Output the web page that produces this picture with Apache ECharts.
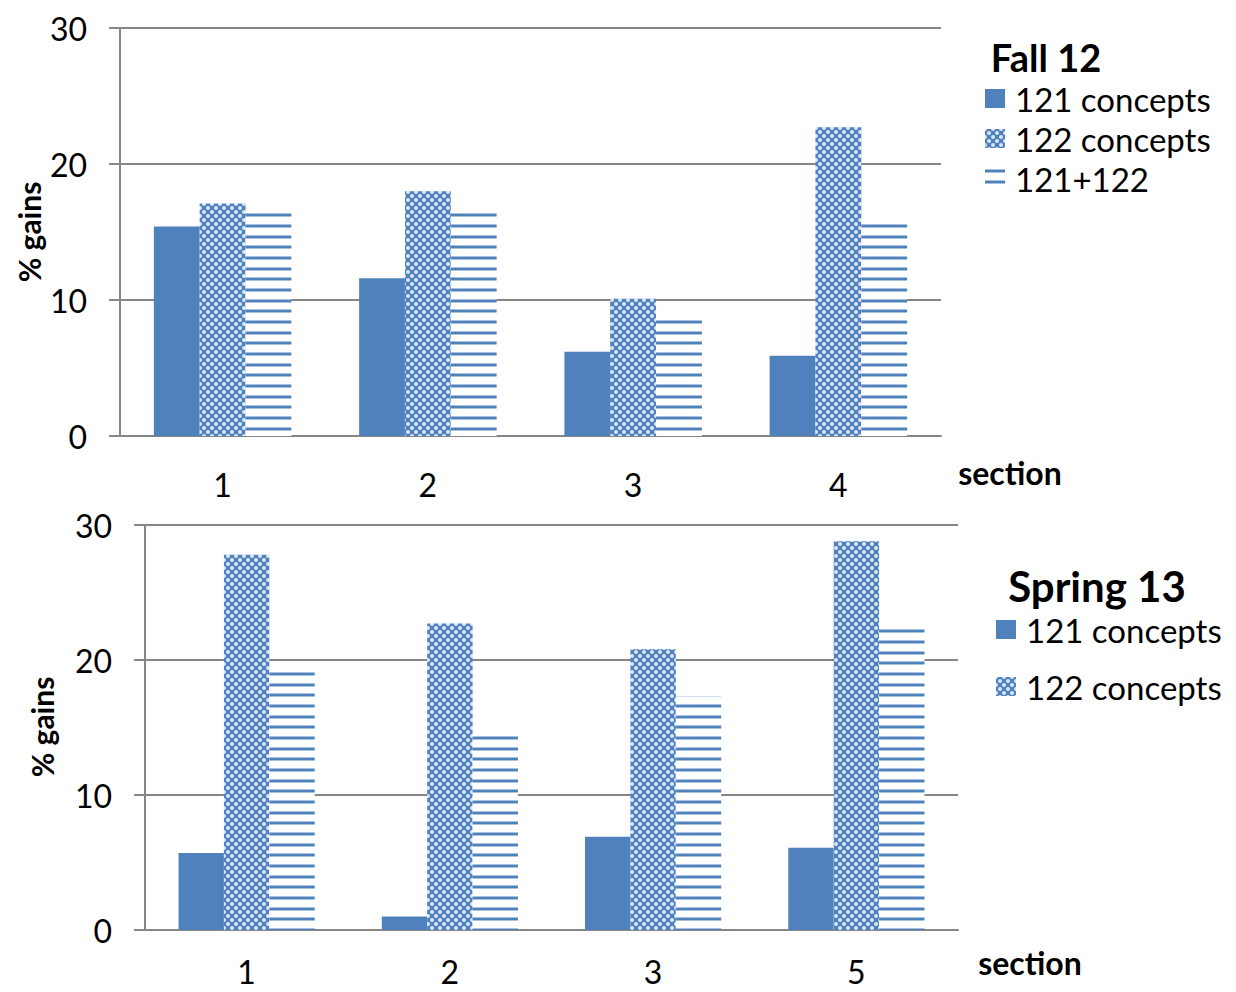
<!DOCTYPE html>
<html>
<head>
<meta charset="utf-8">
<title>% gains by section</title>
<script src="https://cdn.jsdelivr.net/npm/echarts@6/dist/echarts.min.js"></script>
<style>
  html, body { margin: 0; padding: 0; background: #ffffff; }
  #chart { width: 1236px; height: 992px; }
</style>
</head>
<body>
<div id="chart"></div>
<script>
// Fall 12 semester, per section
const fallSections = ['1', '2', '3', '4'];
const fall121 = [15.4, 11.6, 6.2, 5.9];
const fall122 = [17.1, 18.0, 10.1, 22.7];
const fallBoth = [16.6, 16.6, 8.9, 16.0];

// Spring 13 semester, per section
const springSections = ['1', '2', '3', '5'];
const spring121 = [5.7, 1.0, 6.9, 6.1];
const spring122 = [27.8, 22.7, 20.8, 28.8];
const springBoth = [19.3, 14.6, 17.3, 22.5];

const yTicks = [0, 10, 20, 30];
const seriesNames = ['121 concepts', '122 concepts', '121+122'];

const BLUE = '#4f81bd';
const GRID_GRAY = '#868686';
const FONT = 'Lato, "Open Sans", sans-serif';

// Lattice fill: blue ground with pale round holes on a diamond grid
function latticePattern() {
  const c = document.createElement('canvas');
  c.width = 8; c.height = 8;
  const g = c.getContext('2d');
  g.fillStyle = BLUE;
  g.fillRect(0, 0, 8, 8);
  g.fillStyle = '#dce6f2';
  const holes = [[0, 0], [8, 0], [0, 8], [8, 8], [4, 4]];
  holes.forEach(([x, y]) => {
    g.beginPath();
    g.arc(x, y, 2.0, 0, Math.PI * 2);
    g.fill();
  });
  return { image: c, repeat: 'repeat', imageWidth: 8, imageHeight: 8 };
}

// Horizontal stripe fill: thin blue rules on white, about 10.7px apart
function stripePattern() {
  const c = document.createElement('canvas');
  c.width = 4; c.height = 32;
  const g = c.getContext('2d');
  g.fillStyle = '#ffffff';
  g.fillRect(0, 0, 4, 32);
  [0, 11, 21].forEach(y => {
    g.fillStyle = '#a9c0df';
    g.fillRect(0, y, 4, 4);
    g.fillStyle = BLUE;
    g.fillRect(0, y + 1, 4, 2);
  });
  return { image: c, repeat: 'repeat', imageWidth: 4, imageHeight: 32 };
}

const fills = [BLUE, latticePattern(), stripePattern()];

const grids = [
  { left: 120, top: 28, width: 821, height: 408 },
  { left: 145, top: 525, width: 813, height: 405 }
];

function xAxisFor(gridIndex, cats, margin) {
  return {
    type: 'category',
    gridIndex,
    data: cats,
    axisLine: { show: true, lineStyle: { color: GRID_GRAY, width: 2 } },
    axisTick: { show: false },
    axisLabel: { color: '#000', fontSize: 32, fontFamily: FONT, margin }
  };
}

function yAxisFor(gridIndex) {
  return {
    type: 'value',
    gridIndex,
    min: yTicks[0],
    max: yTicks[yTicks.length - 1],
    interval: yTicks[1] - yTicks[0],
    axisLine: { show: true, lineStyle: { color: GRID_GRAY, width: 2 } },
    axisTick: { show: true, inside: false, length: 11, lineStyle: { color: GRID_GRAY, width: 2 } },
    splitLine: { show: true, lineStyle: { color: GRID_GRAY, width: 2 } },
    axisLabel: { color: '#000', fontSize: 32, fontFamily: FONT, margin: 33 }
  };
}

function barSeries(gridIdx, values) {
  return values.map((vals, i) => ({
    name: seriesNames[i],
    type: 'bar',
    xAxisIndex: gridIdx,
    yAxisIndex: gridIdx,
    data: vals,
    barGap: '0%',
    barCategoryGap: '33%',
    itemStyle: { color: fills[i] },
    emphasis: { disabled: true },
    animation: false
  }));
}

function label(text, x, y, size, bold, rotate) {
  return {
    type: 'text',
    x, y,
    rotation: rotate ? Math.PI / 2 : 0,
    style: {
      text,
      fill: '#000',
      font: (bold ? 'bold ' : '') + size + 'px ' + FONT,
      align: 'center',
      verticalAlign: 'middle'
    }
  };
}

const legendText = {
  color: '#000', fontSize: 33, fontFamily: FONT,
  padding: [0, 0, 0, 5]
};

const chart = echarts.init(document.getElementById('chart'), null, { renderer: 'svg' });

chart.setOption({
  animation: false,
  backgroundColor: '#ffffff',
  grid: grids,
  xAxis: [xAxisFor(0, fallSections, 32), xAxisFor(1, springSections, 25)],
  yAxis: [yAxisFor(0), yAxisFor(1)],
  legend: [
    {
      orient: 'vertical',
      left: 985,
      top: 82,
      padding: 0,
      data: seriesNames,
      icon: 'rect',
      itemWidth: 20,
      itemHeight: 19,
      itemGap: 7,
      selectedMode: false,
      textStyle: legendText
    },
    {
      orient: 'vertical',
      left: 996,
      top: 613,
      padding: 0,
      data: seriesNames.slice(0, 2),
      icon: 'rect',
      itemWidth: 20,
      itemHeight: 19,
      itemGap: 24,
      selectedMode: false,
      textStyle: legendText
    }
  ],
  graphic: [
    label('Fall 12', 1046, 57, 38, true, false),
    label('Spring 13', 1097, 586, 42, true, false),
    label('% gains', 29, 232, 30, true, true),
    label('% gains', 42, 727, 30, true, true),
    label('section', 1010, 472, 32, true, false),
    label('section', 1030, 962, 32, true, false)
  ],
  series: [
    ...barSeries(0, [fall121, fall122, fallBoth]),
    ...barSeries(1, [spring121, spring122, springBoth])
  ]
});
</script>
</body>
</html>
